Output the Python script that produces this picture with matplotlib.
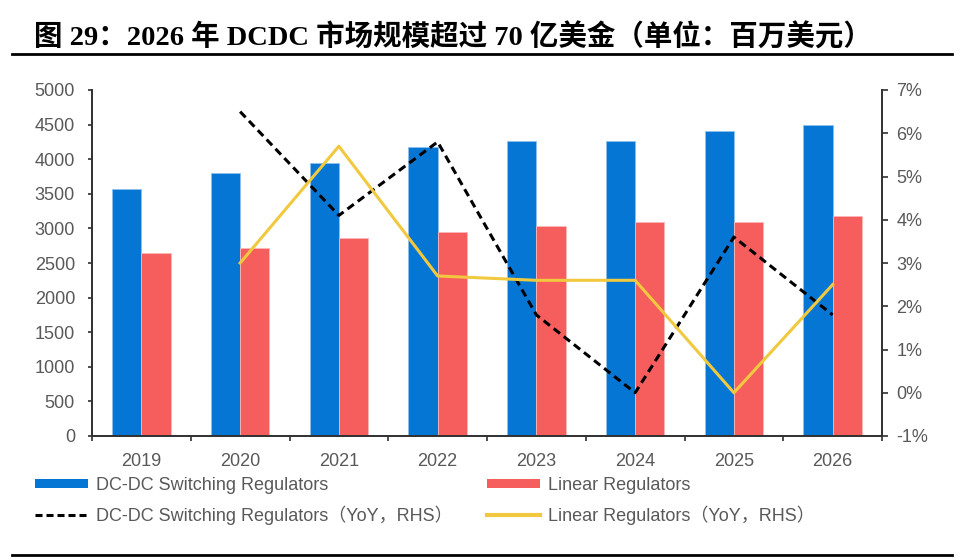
import numpy as np
import matplotlib
matplotlib.use('Agg')
import matplotlib.pyplot as plt
from matplotlib.lines import Line2D
from matplotlib.patches import Patch
from matplotlib.ticker import FuncFormatter

# 数据
years = ['2019', '2020', '2021', '2022', '2023', '2024', '2025', '2026']
dcdc = [3570, 3800, 3950, 4180, 4270, 4270, 4410, 4500]
linear = [2650, 2710, 2860, 2950, 3040, 3090, 3090, 3180]
dcdc_yoy = [np.nan, 6.5, 4.1, 5.8, 1.8, 0.0, 3.6, 1.8]
linear_yoy = [np.nan, 3.0, 5.7, 2.7, 2.6, 2.6, 0.0, 2.5]

title = '图 29：2026 年 DCDC 市场规模超过 70 亿美金（单位：百万美元）'
labels_left = ['DC-DC Switching Regulators', 'DC-DC Switching Regulators（YoY，RHS）']
labels_right = ['Linear Regulators', 'Linear Regulators（YoY，RHS）']

blue = '#0676D5'
red = '#F65D5D'
yellow = '#F0C93F'
grey = '#595959'
axcol = '#303030'
fam = ['Liberation Sans', 'Noto Sans CJK SC']
fs = 13

fig = plt.figure(figsize=(9.64, 5.58), dpi=100)
ax = fig.add_axes([92/964, 1-436/558, 790/964, 346/558])

x = np.arange(len(years))
w = 0.297
ax.bar(x - w/2, dcdc, w, color=blue, edgecolor='#8dbfec', linewidth=0.6, zorder=2)
ax.bar(x + w/2, linear, w, color=red, edgecolor='#fbb8b8', linewidth=0.6, zorder=2)

ax.set_xlim(-0.5, len(years) - 0.5)
ax.set_ylim(0, 5000)
ax.set_yticks(range(0, 5001, 500))
ax.set_xticks(x)
ax.set_xticklabels(years)
ax.set_xticks(np.arange(-0.5, len(years)), minor=True)
ax.tick_params(axis='x', which='major', length=0, pad=12)
ax.tick_params(axis='x', which='minor', length=3.5, width=1.2, color=axcol, direction='out')
ax.tick_params(axis='y', length=3.2, width=1.2, color=axcol, direction='out', pad=9)
for s in ['top', 'right']:
    ax.spines[s].set_visible(False)
for s in ['left', 'bottom']:
    ax.spines[s].set_color(axcol)
    ax.spines[s].set_linewidth(1.4)

ax2 = ax.twinx()
ax2.plot(x, dcdc_yoy, color='black', lw=2.2, dashes=(2.6, 1.6), zorder=3)
ax2.plot(x, linear_yoy, color=yellow, lw=2.2, zorder=3)
ax2.set_ylim(-1, 7)
ax2.set_yticks(range(-1, 8))
ax2.yaxis.set_major_formatter(FuncFormatter(lambda v, p: f'{v:.0f}%'))
ax2.tick_params(axis='y', length=4.5, width=1.2, color=axcol, direction='out', pad=6)
for s in ['top', 'left', 'bottom']:
    ax2.spines[s].set_visible(False)
ax2.spines['right'].set_color(axcol)
ax2.spines['right'].set_linewidth(1.4)

for a in (ax, ax2):
    for lab in a.get_xticklabels() + a.get_yticklabels():
        lab.set_fontfamily(fam)
        lab.set_fontsize(fs)
        lab.set_color(grey)

# 图例（两列分别放置）
leg_kw = dict(loc='upper left', frameon=False, prop={'family': fam, 'size': fs},
              labelcolor=grey, handlelength=2.95, handleheight=0.45, handletextpad=0.45,
              labelspacing=0.62, borderpad=0, borderaxespad=0)
h_left = [Patch(facecolor=blue), Line2D([], [], color='black', lw=2.2, dashes=(2.3, 1.3))]
h_right = [Patch(facecolor=red), Line2D([], [], color=yellow, lw=3)]
fig.legend(h_left, labels_left, bbox_to_anchor=(35/964, 1-477/558), **leg_kw)
fig.legend(h_right, labels_right, bbox_to_anchor=(487/964, 1-477/558), **leg_kw)

# 标题和分隔线
fig.text(34/964, 1-37/558, title, fontsize=20.5, fontweight='bold',
         family=['Liberation Serif', 'Noto Sans CJK SC'], va='center', ha='left')
fig.add_artist(Line2D([12/964, 952/964], [1-54/558]*2, color='black', lw=2,
                      transform=fig.transFigure))
fig.add_artist(Line2D([12/964, 952/964], [1-555/558]*2, color='black', lw=2,
                      transform=fig.transFigure))

fig.savefig('out.png', dpi=100)
